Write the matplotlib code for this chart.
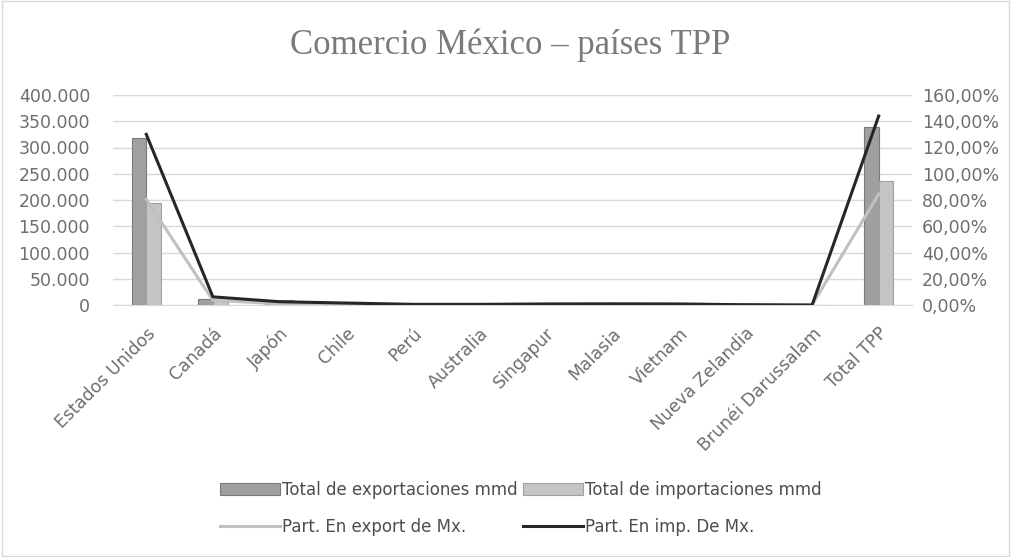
import numpy as np
import matplotlib.pyplot as plt
from matplotlib.ticker import FuncFormatter

# Datos
paises = ["Estados Unidos", "Canadá", "Japón", "Chile", "Perú", "Australia",
          "Singapur", "Malasia", "Vietnam", "Nueva Zelandia",
          "Brunéi Darussalam", "Total TPP"]
exportaciones = [318000, 10500, 3800, 1900, 1600, 1000, 1500, 700, 900, 300, 10, 339000]
importaciones = [195000, 9500, 9000, 1400, 400, 1000, 2300, 2800, 2500, 3000, 10, 236000]
part_export = [80.5, 3.5, 1.0, 0.5, 0.4, 0.3, 0.4, 0.2, 0.2, 0.1, 0.0, 84.5]
part_import = [130.0, 6.2, 2.5, 1.5, 0.5, 0.5, 0.8, 0.9, 0.8, 0.2, 0.0, 144.0]

titulo = "Comercio México – países TPP"

gris_txt = "#6e6e6e"
plt.rcParams['font.family'] = ['DejaVu Sans']

fig = plt.figure(figsize=(10.11, 5.57), dpi=100)
ax = fig.add_axes([113 / 1011, 1 - 305 / 557, (912 - 113) / 1011, 210 / 557])
ax2 = ax.twinx()

x = np.arange(len(paises))
w = 0.22
ax.bar(x - w / 2, exportaciones, w, color="#a0a0a0", edgecolor="#7a7a7a",
       linewidth=0.8, label="Total de exportaciones mmd", zorder=2)
ax.bar(x + w / 2, importaciones, w, color="#c4c4c4", edgecolor="#a0a0a0",
       linewidth=0.8, label="Total de importaciones mmd", zorder=2)

ax2.plot(x, part_export, color="#c0c0c0", lw=2.2, label="Part. En export de Mx.")
ax2.plot(x, part_import, color="#262626", lw=2.2, label="Part. En imp. De Mx.")

ax.set_xlim(-0.5, len(paises) - 0.5)
ax.set_ylim(0, 400000)
ax.set_yticks(np.arange(0, 400001, 50000))
ax.yaxis.set_major_formatter(FuncFormatter(lambda v, p: f"{int(v):,}".replace(",", ".")))
ax2.set_ylim(0, 160)
ax2.set_yticks(np.arange(0, 161, 20))
ax2.yaxis.set_major_formatter(FuncFormatter(lambda v, p: f"{v:.2f}".replace(".", ",") + "%"))

ax.grid(axis="y", color="#d9d9d9", lw=1, zorder=0)
ax.set_axisbelow(True)
for a in (ax, ax2):
    for s in a.spines.values():
        s.set_visible(False)
    a.tick_params(length=0, colors=gris_txt, labelsize=12.5)
ax.spines["bottom"].set_visible(True)
ax.spines["bottom"].set_color("#d9d9d9")

ax.set_xticks(x)
ax.set_xticklabels(paises, rotation=45, ha="right", rotation_mode="anchor")
ax.tick_params(axis="x", pad=14)
ax.tick_params(axis="y", pad=16.5)
ax2.tick_params(axis="y", pad=7)

fig.text(0.505, 0.919, titulo, ha="center", va="center", fontsize=25,
         family="Liberation Serif", color="#7a7a7a")

h1, l1 = ax.get_legend_handles_labels()
h2, l2 = ax2.get_legend_handles_labels()
handles = [h1[0], h2[0], h1[1], h2[1]]
labels = [l1[0], l2[0], l1[1], l2[1]]
fig.legend(handles, labels, ncol=2, loc="center", bbox_to_anchor=(0.515, 0.087),
           frameon=False, fontsize=12, labelcolor="#4d4d4d", handlelength=3.6,
           handletextpad=0.15, columnspacing=0.3, labelspacing=1.15)

# marco del gráfico
fig.patches.append(plt.Rectangle((0.002, 0.002), 0.996, 0.996, transform=fig.transFigure,
                                 fill=False, edgecolor="#d9d9d9", lw=1))

fig.savefig("out.png", dpi=100)
